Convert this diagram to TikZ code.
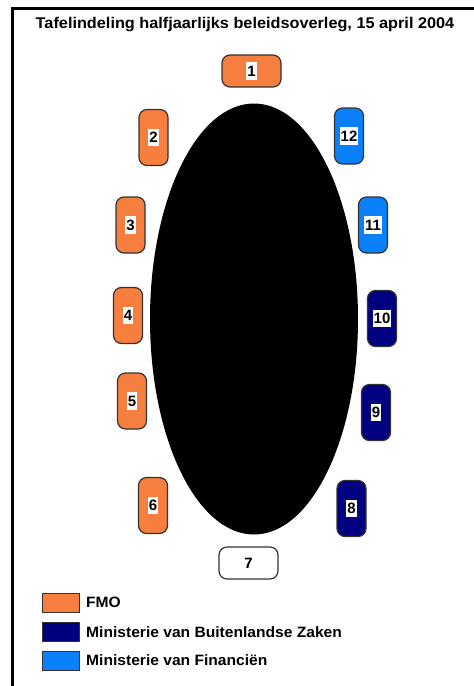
\documentclass[tikz,border=0pt]{standalone}
\usepackage{fontspec}
\setmainfont{Liberation Sans}
\usetikzlibrary{shapes.geometric}
\definecolor{fmo}{RGB}{246,126,62}
\definecolor{bz}{RGB}{0,0,128}
\definecolor{fin}{RGB}{10,128,250}
\begin{document}
\begin{tikzpicture}[x=1pt,y=-1pt,
  seat/.style={draw=black!80,line width=1.2pt,rounded corners=8pt,inner sep=0pt},
  vseat/.style={seat,minimum width=29pt,minimum height=56pt},
  hseat/.style={seat,minimum width=59pt,minimum height=32pt},
  num/.style={fill=white,inner xsep=1pt,inner ysep=3.5pt,font=\bfseries\fontsize{15}{15}\selectfont},
  legbox/.style={draw=black!80,line width=0.8pt,minimum width=37pt,minimum height=19pt,inner sep=0pt},
  legtxt/.style={anchor=west,inner sep=0pt,font=\bfseries\fontsize{15}{15}\selectfont}]
\useasboundingbox (0,0) rectangle (474,686);
\fill[white] (0,0) rectangle (474,686);
\draw[line width=3pt] (12.5,686) -- (12.5,8.5) -- (474,8.5);
\node[inner sep=0pt,font=\bfseries\fontsize{15.5}{15.5}\selectfont] (title) at (245,25) {\scalebox{1.05}[1]{Tafelindeling halfjaarlijks beleidsoverleg, 15 april 2004}};
\node[fill=black,ellipse,minimum width=208pt,minimum height=431pt,inner sep=0pt] (table) at (254,319) {};
% seats
\node[hseat,fill=fmo] (s1) at (251.5,71) {};
\node[num] at (s1) {1};
\node[vseat,fill=fmo] (s2) at (153.5,137.5) {};
\node[num] at (s2) {2};
\node[vseat,fill=fmo] (s3) at (130.5,225) {};
\node[num] at (s3) {3};
\node[vseat,fill=fmo] (s4) at (128,315.5) {};
\node[num] at (s4) {4};
\node[vseat,fill=fmo] (s5) at (132,401) {};
\node[num] at (s5) {5};
\node[vseat,fill=fmo] (s6) at (153,505.5) {};
\node[num] at (s6) {6};
\node[hseat,fill=white] (s7) at (248.5,563) {};
\node[num] at (s7) {7};
\node[vseat,fill=bz] (s8) at (351.5,508.5) {};
\node[num] at (s8) {8};
\node[vseat,fill=bz] (s9) at (376,412.5) {};
\node[num] at (s9) {9};
\node[vseat,fill=bz] (s10) at (382,318.5) {};
\node[num] at (s10) {10};
\node[vseat,fill=fin] (s11) at (373,225) {};
\node[num] at (s11) {11};
\node[vseat,fill=fin] (s12) at (349,136) {};
\node[num] at (s12) {12};
% legend
\node[legbox,fill=fmo] (l1) at (60.5,602.5) {};
\node[legtxt] (t1) at (86,602.5) {\scalebox{1.04}[1]{FMO}};
\node[legbox,fill=bz] (l2) at (60.5,632) {};
\node[legtxt] (t2) at (86,632) {\scalebox{1.04}[1]{Ministerie van Buitenlandse Zaken}};
\node[legbox,fill=fin] (l3) at (60.5,660.5) {};
\node[legtxt] (t3) at (86,660.5) {\scalebox{1.04}[1]{Ministerie van Financiën}};
\end{tikzpicture}
\end{document}
